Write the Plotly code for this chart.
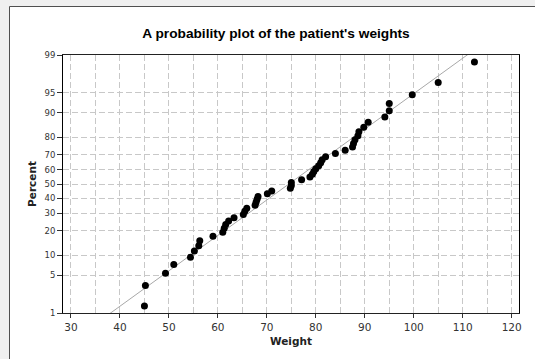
import plotly.graph_objects as go
from statistics import NormalDist

# ---- data (sorted weights) ----
weights = [45.0, 45.2, 49.3, 51.0, 54.4, 55.2, 56.1, 56.3, 59.0,
           61.0, 61.3, 61.6, 62.2, 63.3, 65.2, 65.5, 65.9,
           67.6, 67.8, 68.0, 68.2, 70.1, 71.0,
           74.8, 75.0, 75.0, 77.1, 78.8, 79.3,
           79.6, 80.0, 80.6, 81.0, 81.3, 82.0,
           84.0, 86.0, 87.5, 87.7, 88.0, 88.6, 88.8, 89.8, 90.7,
           94.1, 95.0, 95.0, 99.7, 105.0, 112.4]
fit_mean = 74.5
fit_sd = 15.65
percent_ticks = [1, 5, 10, 20, 30, 40, 50, 60, 70, 80, 90, 95, 99]
x_ticks = [30, 40, 50, 60, 70, 80, 90, 100, 110, 120]

nd = NormalDist()
n = len(weights)
# median-rank plotting positions
pp = [(i - 0.3) / (n + 0.4) for i in range(1, n + 1)]
zpts = [nd.inv_cdf(p) for p in pp]

zline = [-2.8, 2.8]
xline = [fit_mean + fit_sd * z for z in zline]

ztick = [nd.inv_cdf(p / 100) for p in percent_ticks]
zmax = nd.inv_cdf(0.99)

fig = go.Figure()
fig.add_trace(go.Scatter(x=xline, y=zline, mode="lines",
                         line=dict(color="#a8a8a8", width=1), hoverinfo="skip"))
fig.add_trace(go.Scatter(x=weights, y=zpts, mode="markers",
                         marker=dict(color="black", size=7)))

W, H = 535, 359
ml, mr, mt, mb = 63, 16, 55, 46
pw, ph = W - ml - mr, H - mt - mb

def px_x(px):
    return (px - ml) / pw

def px_y(py):
    return (H - mb - py) / ph

fig.add_shape(type="rect", xref="paper", yref="paper",
              x0=px_x(9.5), x1=px_x(560), y0=px_y(380), y1=px_y(6.5),
              line=dict(color="#505050", width=1), fillcolor="white", layer="below")

tick_font = dict(family="DejaVu Sans", size=10.5, color="#333333")

fig.update_layout(
    width=W, height=H,
    margin=dict(l=ml, r=mr, t=mt, b=mb),
    paper_bgcolor="#f0f0f0",
    plot_bgcolor="white",
    showlegend=False,
    title=dict(text="<b>A probability plot of the patient's weights</b>",
               font=dict(family="Liberation Sans", size=13.7, color="black"),
               x=px_x(276), xref="paper", xanchor="center",
               y=1 - 33 / H, yanchor="middle"),
    xaxis=dict(range=[28.37, 121.5], tickvals=x_ticks,
               ticks="outside", ticklen=4, tickcolor="#333333",
               tickfont=tick_font,
               showline=True, linecolor="#222222", linewidth=1, mirror=True,
               showgrid=True, gridcolor="#c8c8c8", griddash="6px,3px", gridwidth=1,
               minor=dict(dtick=5, tick0=0, showgrid=True, gridcolor="#c8c8c8",
                          griddash="6px,3px", ticks=""),
               zeroline=False,
               title=dict(text="<b>Weight</b>", standoff=6,
                          font=dict(family="DejaVu Sans", size=10.5, color="#222222"))),
    yaxis=dict(range=[-zmax, zmax], tickvals=ztick,
               ticktext=[str(p) for p in percent_ticks],
               ticks="outside", ticklen=5, tickcolor="#333333",
               tickfont=dict(family="DejaVu Sans", size=8.5, color="#333333"),
               showline=True, linecolor="black", linewidth=1, mirror=True,
               showgrid=True, gridcolor="#c8c8c8", griddash="6px,3px", gridwidth=1,
               zeroline=False,
               title=dict(text="<b>Percent</b>", standoff=5,
                          font=dict(family="DejaVu Sans", size=10.5, color="#222222"))),
)

fig.write_html("out.html", config={"displayModeBar": False},
               post_script="document.body.style.margin='0';document.body.style.overflow='hidden';")
